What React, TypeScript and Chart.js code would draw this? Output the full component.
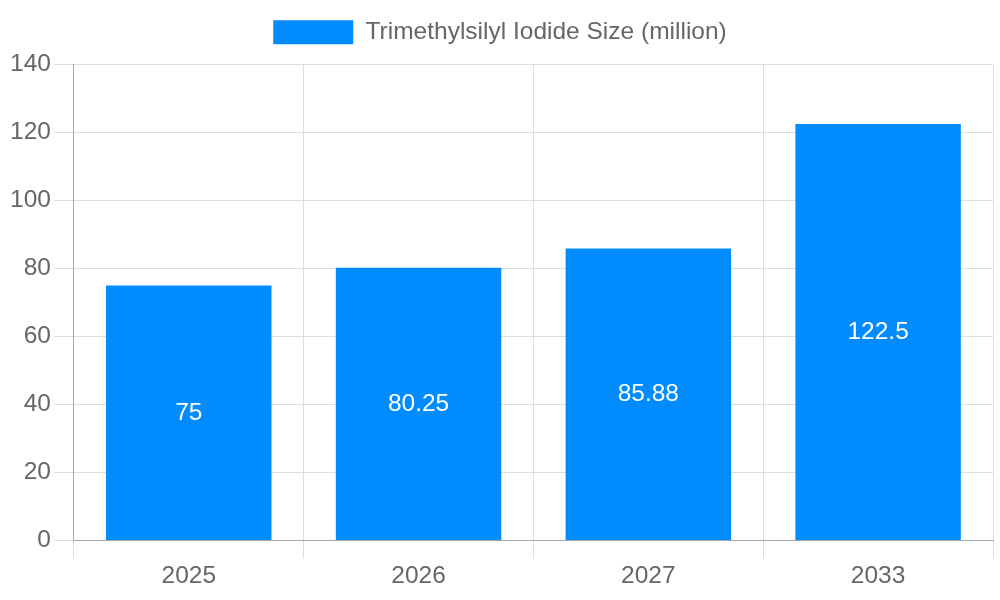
import React, { useEffect, useRef } from "react";
import { Chart, registerables } from "chart.js";

Chart.register(...registerables);

const categories = ["2025", "2026", "2027", "2033"];
const sizeValues = [75, 80.25, 85.88, 122.5];
const seriesLabel = "Trimethylsilyl Iodide Size (million)";

const barLabelPlugin = {
  id: "barLabels",
  afterDatasetsDraw(chart: any) {
    const ctx = chart.ctx;
    const meta = chart.getDatasetMeta(0);
    ctx.save();
    ctx.fillStyle = "#ffffff";
    ctx.font = "24.5px 'Liberation Sans', Arial, sans-serif";
    ctx.textAlign = "center";
    ctx.textBaseline = "middle";
    meta.data.forEach((bar: any, i: number) => {
      const props = bar.getProps(["x", "y", "base"], true);
      const cy = (props.y + props.base) / 2;
      ctx.fillText(String(sizeValues[i]), props.x, cy);
    });
    ctx.restore();
  },
};

const legendMarginPlugin = {
  id: "legendMargin",
  beforeInit(chart: any) {
    const legend = chart.legend;
    if (!legend) return;
    const origFit = legend.fit;
    legend.fit = function () {
      origFit.call(this);
      this.height += 10;
    };
  },
};

export default function App() {
  const ref = useRef<HTMLCanvasElement>(null);
  useEffect(() => {
    if (!ref.current) return;
    const font = { family: "'Liberation Sans', Arial, sans-serif", size: 24.5 };
    const chart = new Chart(ref.current, {
      type: "bar",
      data: {
        labels: categories,
        datasets: [
          {
            label: seriesLabel,
            data: sizeValues,
            backgroundColor: "#008cff",
            borderWidth: 0,
          },
        ],
      },
      options: {
        animation: false,
        responsive: false,
        maintainAspectRatio: false,
        layout: { padding: { top: 10, left: 7, bottom: 6, right: 7 } },
        plugins: {
          legend: {
            display: true,
            position: "top",
            labels: { font, color: "#666", boxWidth: 80, boxHeight: 24, padding: 10 },
          },
          tooltip: { enabled: false },
        },
        scales: {
          x: {
            ticks: { font, color: "#666" },
            grid: { color: "#dedede", tickLength: 18 },
            border: { color: "#a8a8a8" },
          },
          y: {
            min: 0,
            max: 140,
            ticks: { font, color: "#666", stepSize: 20 },
            grid: { color: "#dedede", tickLength: 20 },
            border: { color: "#a8a8a8" },
          },
        },
      },
      plugins: [legendMarginPlugin, barLabelPlugin],
    });
    return () => chart.destroy();
  }, []);
  return (
    <div style={{ position: "absolute", left: 0, top: 0, width: 1000, height: 600 }}>
      <canvas ref={ref} width={1000} height={600} style={{ width: 1000, height: 600 }} />
    </div>
  );
}
